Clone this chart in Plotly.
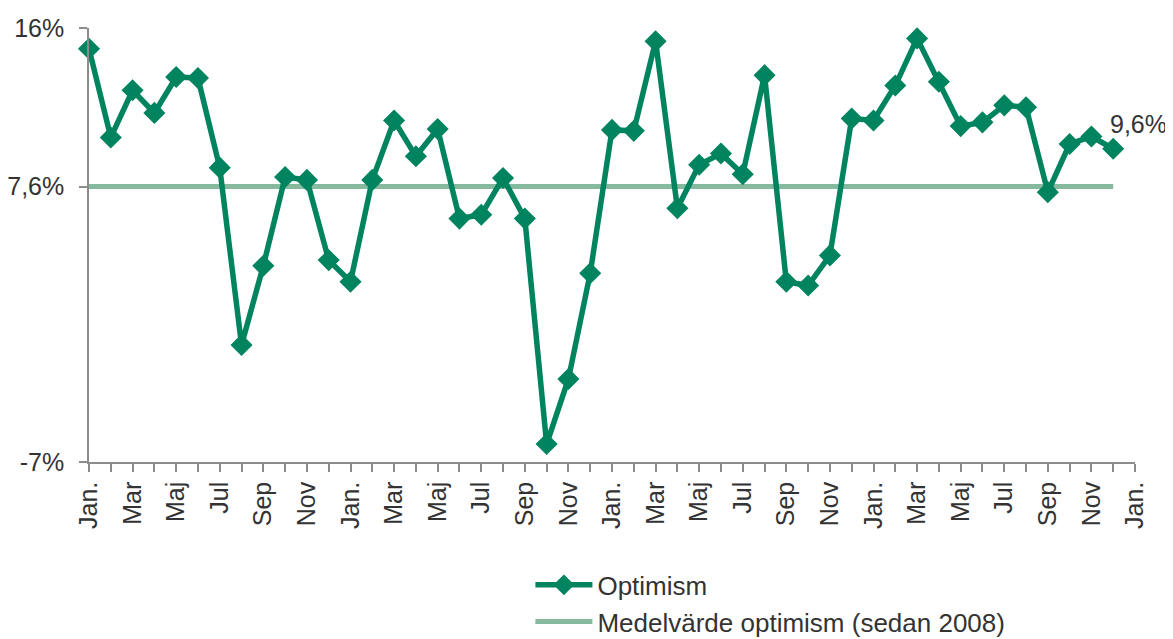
import plotly.graph_objects as go

# ---- data ----
months = list(range(48))
optimism = [14.9, 10.2, 12.7, 11.5, 13.4, 13.35, 8.6, -0.8, 3.4, 8.1, 7.95, 3.7,
            2.55, 7.95, 11.1, 9.2, 10.65, 5.9, 6.1, 8.05, 5.9, -6.05, -2.6, 3.0,
            10.6, 10.55, 15.3, 6.45, 8.75, 9.35, 8.25, 13.5, 2.55, 2.35, 3.95, 11.2,
            11.1, 12.95, 15.45, 13.15, 10.8, 11.0, 11.9, 11.8, 7.3, 9.85, 10.25, 9.6]
average = [7.6] * 48
tick_positions = list(range(49))
tick_labels = (["Jan.", "", "Mar", "", "Maj", "", "Jul", "", "Sep", "", "Nov", ""] * 4) + ["Jan."]
y_tickvals = [-7, 7.6, 16]
y_ticktext = ["-7%", "7,6%", "16%"]
last_label = "9,6%"

DARK = "#00845F"
LIGHT = "#86BA9E"
TXT = "#333333"
AX = "#8c8c8c"
FONT = "Arial, Liberation Sans, sans-serif"

fig = go.Figure()
fig.add_trace(go.Scatter(
    x=months, y=average, mode="lines", name="Medelvärde optimism (sedan 2008)",
    line=dict(color=LIGHT, width=5), cliponaxis=False, showlegend=True,
    legendrank=2,
))
fig.add_trace(go.Scatter(
    x=months, y=optimism, mode="lines+markers", name="Optimism",
    line=dict(color=DARK, width=5.5),
    marker=dict(symbol="diamond", size=17, color=DARK),
    cliponaxis=False, legendrank=1,
))

fig.add_annotation(
    x=months[-1], y=optimism[-1], text=last_label, showarrow=False,
    xanchor="left", yanchor="middle", xshift=-5, yshift=25,
    font=dict(family=FONT, size=25, color=TXT),
)

# page body has an 8px default margin, so the figure is 8px smaller and offset
fig.update_layout(
    width=1165, height=631,
    margin=dict(l=81, r=38, t=20, b=177, autoexpand=False),
    paper_bgcolor="white", plot_bgcolor="white",
    font=dict(family=FONT, size=25, color=TXT),
    showlegend=True,
    legend=dict(
        x=0.422, y=-0.229, xanchor="left", yanchor="top",
        orientation="v", itemwidth=57,
        font=dict(family=FONT, size=26, color=TXT),
        bgcolor="rgba(0,0,0,0)", tracegroupgap=0,
    ),
    xaxis=dict(
        range=[0, 48], tickmode="array", tickvals=tick_positions, ticktext=tick_labels,
        tickangle=-90, ticks="outside", ticklen=8, tickcolor=AX, tickwidth=1.5,
        showline=True, linecolor=AX, linewidth=1.5, showgrid=False, zeroline=False,
        tickfont=dict(family=FONT, size=25, color=TXT), automargin=False,
    ),
    yaxis=dict(
        range=[-7, 16], tickmode="array", tickvals=y_tickvals, ticktext=y_ticktext,
        ticks="outside", ticklen=8, tickcolor=AX, tickwidth=1.5,
        showline=True, linecolor=AX, linewidth=1.5, showgrid=False, zeroline=False,
        tickfont=dict(family=FONT, size=25, color=TXT), ticklabelstandoff=10,
        automargin=False,
    ),
)

fig.write_html("out.html")
